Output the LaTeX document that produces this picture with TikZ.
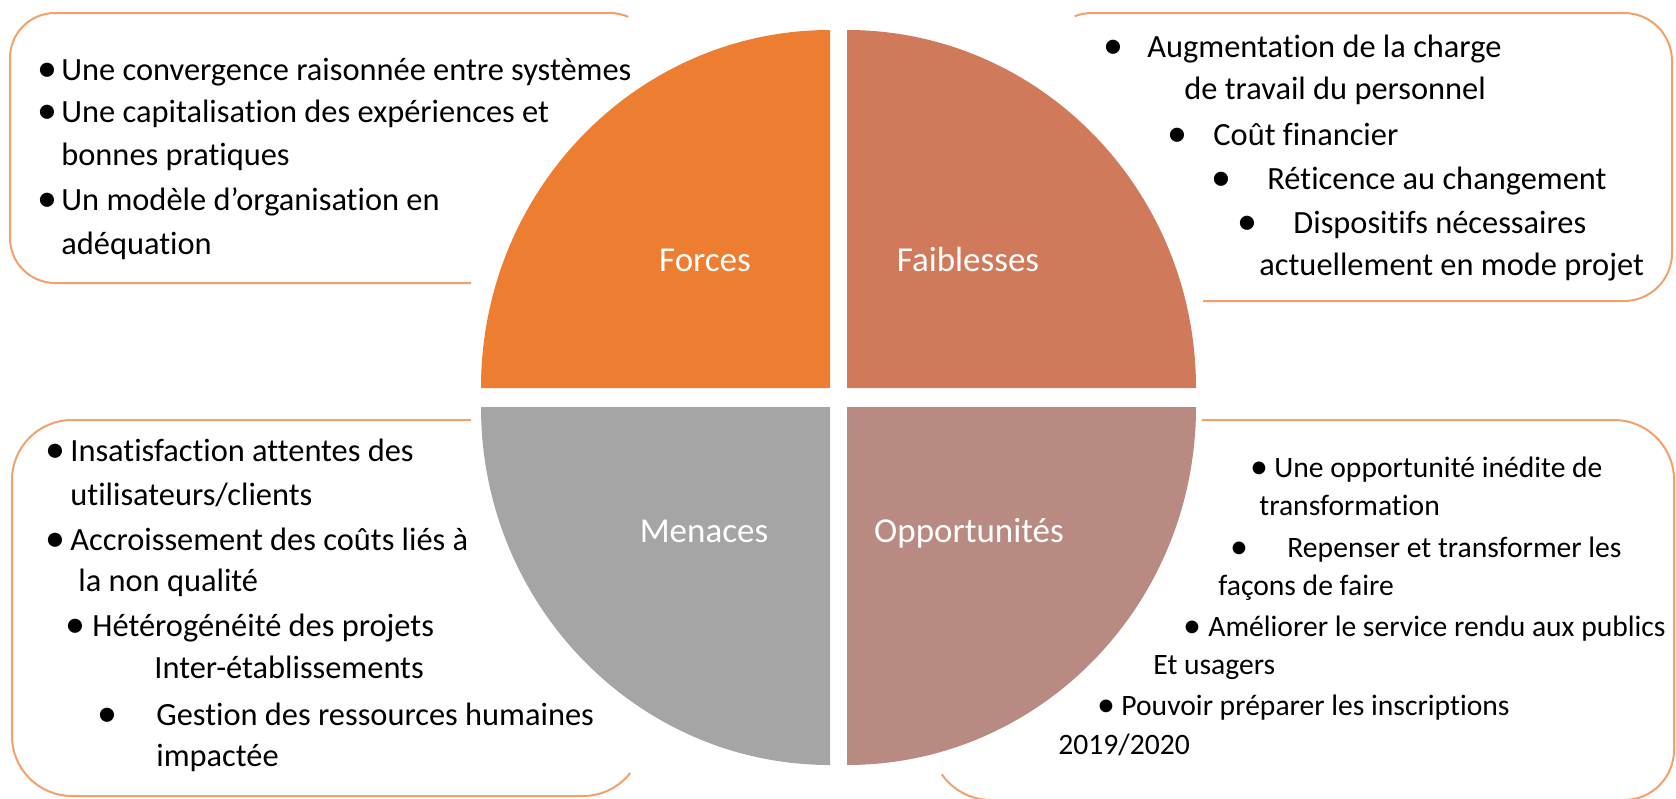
\documentclass[tikz,border=0pt]{standalone}
\usepackage{fontspec}
\setmainfont{Carlito}[Ligatures=CommonOff]
\definecolor{cforces}{HTML}{ED7D31}
\definecolor{cfaible}{HTML}{D1795B}
\definecolor{cmenace}{HTML}{A5A5A5}
\definecolor{coppor}{HTML}{B98A81}
\definecolor{boxline}{HTML}{F3A06B}
\begin{document}
\begin{tikzpicture}[x=0.5pt,y=-0.5pt,
  boxframe/.style={draw=boxline, line width=1pt},
  listitem/.style={anchor=base west, inner sep=0pt, font=\fontsize{16.2}{19}\selectfont},
  smallitem/.style={anchor=base west, inner sep=0pt, font=\fontsize{14.8}{18}\selectfont},
  bulletdot/.style={anchor=center, inner sep=0pt, font=\fontsize{20}{20}\selectfont},
  smalldot/.style={anchor=center, inner sep=0pt, font=\fontsize{18}{18}\selectfont},
  quadlabel/.style={anchor=base, inner sep=0pt, text=white, font=\fontsize{17.5}{20}\selectfont}]
\useasboundingbox (0,0) rectangle (1676,798);
% text boxes (partly hidden borders)
\draw[boxframe] (471,283) -- (55,283) arc[start angle=90,end angle=180,radius=45]
  -- (10,58) arc[start angle=180,end angle=270,radius=45]
  -- (610,13) arc[start angle=270,end angle=294,radius=45];
\draw[boxframe] (1092,13) arc[start angle=270,end angle=249,radius=48]
  (1092,13) -- (1624,13) arc[start angle=270,end angle=360,radius=48]
  -- (1672,253) arc[start angle=0,end angle=90,radius=48] -- (1203,301);
\draw[boxframe] (471,420) -- (72,420) arc[start angle=270,end angle=180,radius=60]
  -- (12,736) arc[start angle=180,end angle=90,radius=60]
  -- (583,796) arc[start angle=90,end angle=38,radius=60];
\draw[boxframe] (1202,420) -- (1614,420) arc[start angle=270,end angle=360,radius=60]
  -- (1674,750) arc[start angle=0,end angle=90,radius=50]
  -- (991,800) arc[start angle=90,end angle=145,radius=60];
% quadrants
\fill[cforces] (830,388) -- (481,388) arc[start angle=180,end angle=270,x radius=349,y radius=358] -- cycle;
\fill[cfaible] (847,388) -- (847,30) arc[start angle=270,end angle=360,x radius=349,y radius=358] -- cycle;
\fill[cmenace] (830,407) -- (830,765) arc[start angle=90,end angle=180,x radius=349,y radius=358] -- cycle;
\fill[coppor] (847,407) -- (1196,407) arc[start angle=0,end angle=90,x radius=349,y radius=358] -- cycle;
\node[quadlabel] (lf) at (705,271) {Forces};
\node[quadlabel] (lw) at (968,271) {Faiblesses};
\node[quadlabel] (lm) at (704,542) {Menaces};
\node[quadlabel] (lo) at (969,542) {Opportunités};
% Forces list
\node[bulletdot] (tl1b) at (47,72) {•};
\node[listitem] (tl1) at (61,80) {Une convergence raisonnée entre systèmes};
\node[bulletdot] (tl2b) at (47,114) {•};
\node[listitem] (tl2) at (61,122) {Une capitalisation des expériences et};
\node[listitem] (tl3) at (61,165) {bonnes pratiques};
\node[bulletdot] (tl4b) at (47,202) {•};
\node[listitem] (tl4) at (61,210) {Un modèle d’organisation en};
\node[listitem] (tl5) at (61,254) {adéquation};
% Faiblesses list
\node[bulletdot] (tr1b) at (1113,49) {•};
\node[listitem] (tr1) at (1147,57) {Augmentation de la charge};
\node[listitem] (tr2) at (1184,99) {de travail du personnel};
\node[bulletdot] (tr3b) at (1177,137) {•};
\node[listitem] (tr3) at (1213,145) {Coût financier};
\node[bulletdot] (tr4b) at (1221,181) {•};
\node[listitem] (tr4) at (1267,189) {Réticence au changement};
\node[bulletdot] (tr5b) at (1247,225) {•};
\node[listitem] (tr5) at (1293,233) {Dispositifs nécessaires};
\node[listitem] (tr6) at (1259,275) {actuellement en mode projet};
% Menaces list
\node[bulletdot] (bl1b) at (55,453) {•};
\node[listitem] (bl1) at (70,461) {Insatisfaction attentes des};
\node[listitem] (bl2) at (70,505) {utilisateurs/clients};
\node[bulletdot] (bl3b) at (55,542) {•};
\node[listitem] (bl3) at (70,550) {Accroissement des coûts liés à};
\node[listitem] (bl4) at (78,591) {la non qualité};
\node[bulletdot] (bl5b) at (75,628) {•};
\node[listitem] (bl5) at (92,636) {Hétérogénéité des projets};
\node[listitem] (bl6) at (154,678) {Inter-établissements};
\node[bulletdot] (bl7b) at (107,717) {•};
\node[listitem] (bl7) at (156,725) {Gestion des ressources humaines};
\node[listitem] (bl8) at (156,766) {impactée};
% Opportunites list
\node[smalldot] (br1b) at (1259,470) {•};
\node[smallitem] (br1) at (1274,477) {Une opportunité inédite de};
\node[smallitem] (br2) at (1259,515) {transformation};
\node[smalldot] (br3b) at (1239,550) {•};
\node[smallitem] (br3) at (1287,557) {Repenser et transformer les};
\node[smallitem] (br4) at (1218,595) {façons de faire};
\node[smalldot] (br5b) at (1192,629) {•};
\node[smallitem] (br5) at (1208,636) {Améliorer le service rendu aux publics};
\node[smallitem] (br6) at (1153,674) {Et usagers};
\node[smalldot] (br7b) at (1106,708) {•};
\node[smallitem] (br7) at (1121,715) {Pouvoir préparer les inscriptions};
\node[smallitem] (br8) at (1058,754) {2019/2020};
\end{tikzpicture}
\end{document}
